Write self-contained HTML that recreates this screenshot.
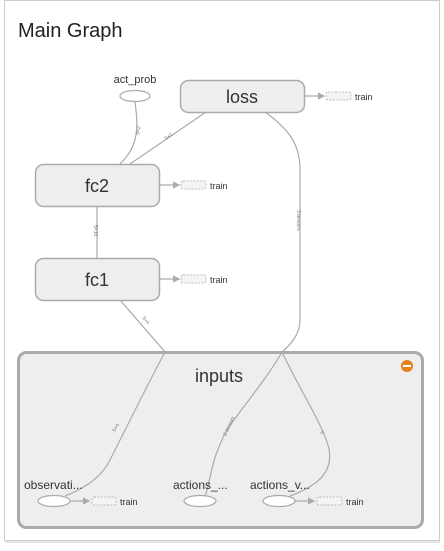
<!DOCTYPE html>
<html><head><style>
html,body{margin:0;padding:0;background:#fff;}
body{width:444px;height:546px;overflow:hidden;font-family:"Liberation Sans",sans-serif;}
</style></head><body>
<svg width="444" height="546" viewBox="0 0 444 546" xmlns="http://www.w3.org/2000/svg" font-family="Liberation Sans, sans-serif">
<defs><marker id="ar" markerWidth="6" markerHeight="6" refX="5" refY="3" orient="auto"><path d="M0,0L6,3L0,6z" fill="#aaa"/></marker></defs>
<rect x="4.5" y="0.5" width="435" height="540" fill="#fff" stroke="#ccc"/>
<line x1="5" y1="542" x2="440" y2="542" stroke="#e4e4e4" stroke-width="2"/>
<text x="18" y="37" font-size="20" fill="#222">Main Graph</text>

<!-- inputs group -->
<rect x="18.5" y="352.5" width="404" height="175" rx="8" fill="#eee" stroke="#aaa" stroke-width="3"/>
<text x="219" y="382" font-size="18" fill="#333" text-anchor="middle">inputs</text>
<circle cx="407" cy="366" r="6" fill="#e8801b"/>
<rect x="403" y="365" width="8" height="2" fill="#fff"/>

<!-- edges -->
<g fill="none" stroke="#aaa" stroke-width="1.2">
<path d="M135,102 C138,125 140,145 120,164"/>
<path d="M206,112 L130,164"/>
<path d="M97,206 L97,258"/>
<path d="M265,112 C290,130 300,145 300,170 L300,320 C300,335 290,345 282,352"/>
<path d="M120,300 L165,352 C150,380 130,420 110,460 C100,480 80,490 65,496"/>
<path d="M282,352 C260,390 230,420 222,440 C210,465 210,485 205,496"/>
<path d="M282,352 C300,390 320,420 328,445 C335,470 320,485 290,496"/>
<path d="M305,96 L324,96" marker-end="url(#ar)"/>
<path d="M160,185 L179,185" marker-end="url(#ar)"/>
<path d="M160,279 L179,279" marker-end="url(#ar)"/>
<path d="M70,501 L89,501" marker-end="url(#ar)"/>
<path d="M295,501 L314,501" marker-end="url(#ar)"/>
</g>
<g font-size="5" fill="#777">
<text x="139" y="135" transform="rotate(-80 139 135)">5×2</text>
<text x="166" y="140" transform="rotate(-35 166 140)">5×2</text>
<text x="94" y="225" transform="rotate(90 94 225)">5×10</text>
<text x="297" y="210" transform="rotate(90 297 210)">3 tensors</text>
<text x="142" y="318" transform="rotate(50 142 318)">5×4</text>
<text x="115" y="432" transform="rotate(-60 115 432)">5×4</text>
<text x="226" y="436" transform="rotate(-65 226 436)">2 tensors</text>
<text x="320" y="432" transform="rotate(65 320 432)">5</text>
</g>

<!-- nodes -->
<text x="135" y="83" font-size="11" fill="#333" text-anchor="middle">act_prob</text>
<ellipse cx="135" cy="96" rx="15" ry="5.5" fill="#fff" stroke="#aaa" stroke-width="1.2"/>
<g fill="#eee" stroke="#aaa" stroke-width="1.5">
<rect x="180.5" y="80.5" width="124" height="32" rx="8"/>
<rect x="35.5" y="164.5" width="124" height="42" rx="8"/>
<rect x="35.5" y="258.5" width="124" height="42" rx="8"/>
</g>
<g font-size="18" fill="#333" text-anchor="middle">
<text x="242" y="103">loss</text>
<text x="97" y="192">fc2</text>
<text x="97" y="286">fc1</text>
</g>
<g fill="#f4f4f4" stroke="#bbb" stroke-dasharray="2,1.5">
<rect x="326" y="92" width="25" height="8" rx="2"/>
<rect x="181" y="181" width="25" height="8" rx="2"/>
<rect x="181" y="275" width="25" height="8" rx="2"/>
<rect x="92" y="497" width="24" height="8" rx="2"/>
<rect x="317" y="497" width="25" height="8" rx="2"/>
</g>
<g font-size="9" fill="#333">
<text x="355" y="100">train</text>
<text x="210" y="189">train</text>
<text x="210" y="283">train</text>
<text x="120" y="505">train</text>
<text x="346" y="505">train</text>
</g>
<g font-size="12" fill="#333">
<text x="24" y="489">observati...</text>
<text x="173" y="489">actions_...</text>
<text x="250" y="489">actions_v...</text>
</g>
<g fill="#fff" stroke="#aaa" stroke-width="1.2">
<ellipse cx="54" cy="501" rx="16" ry="5.5"/>
<ellipse cx="200" cy="501" rx="16" ry="5.5"/>
<ellipse cx="279" cy="501" rx="16" ry="5.5"/>
</g>
</svg>
</body></html>
